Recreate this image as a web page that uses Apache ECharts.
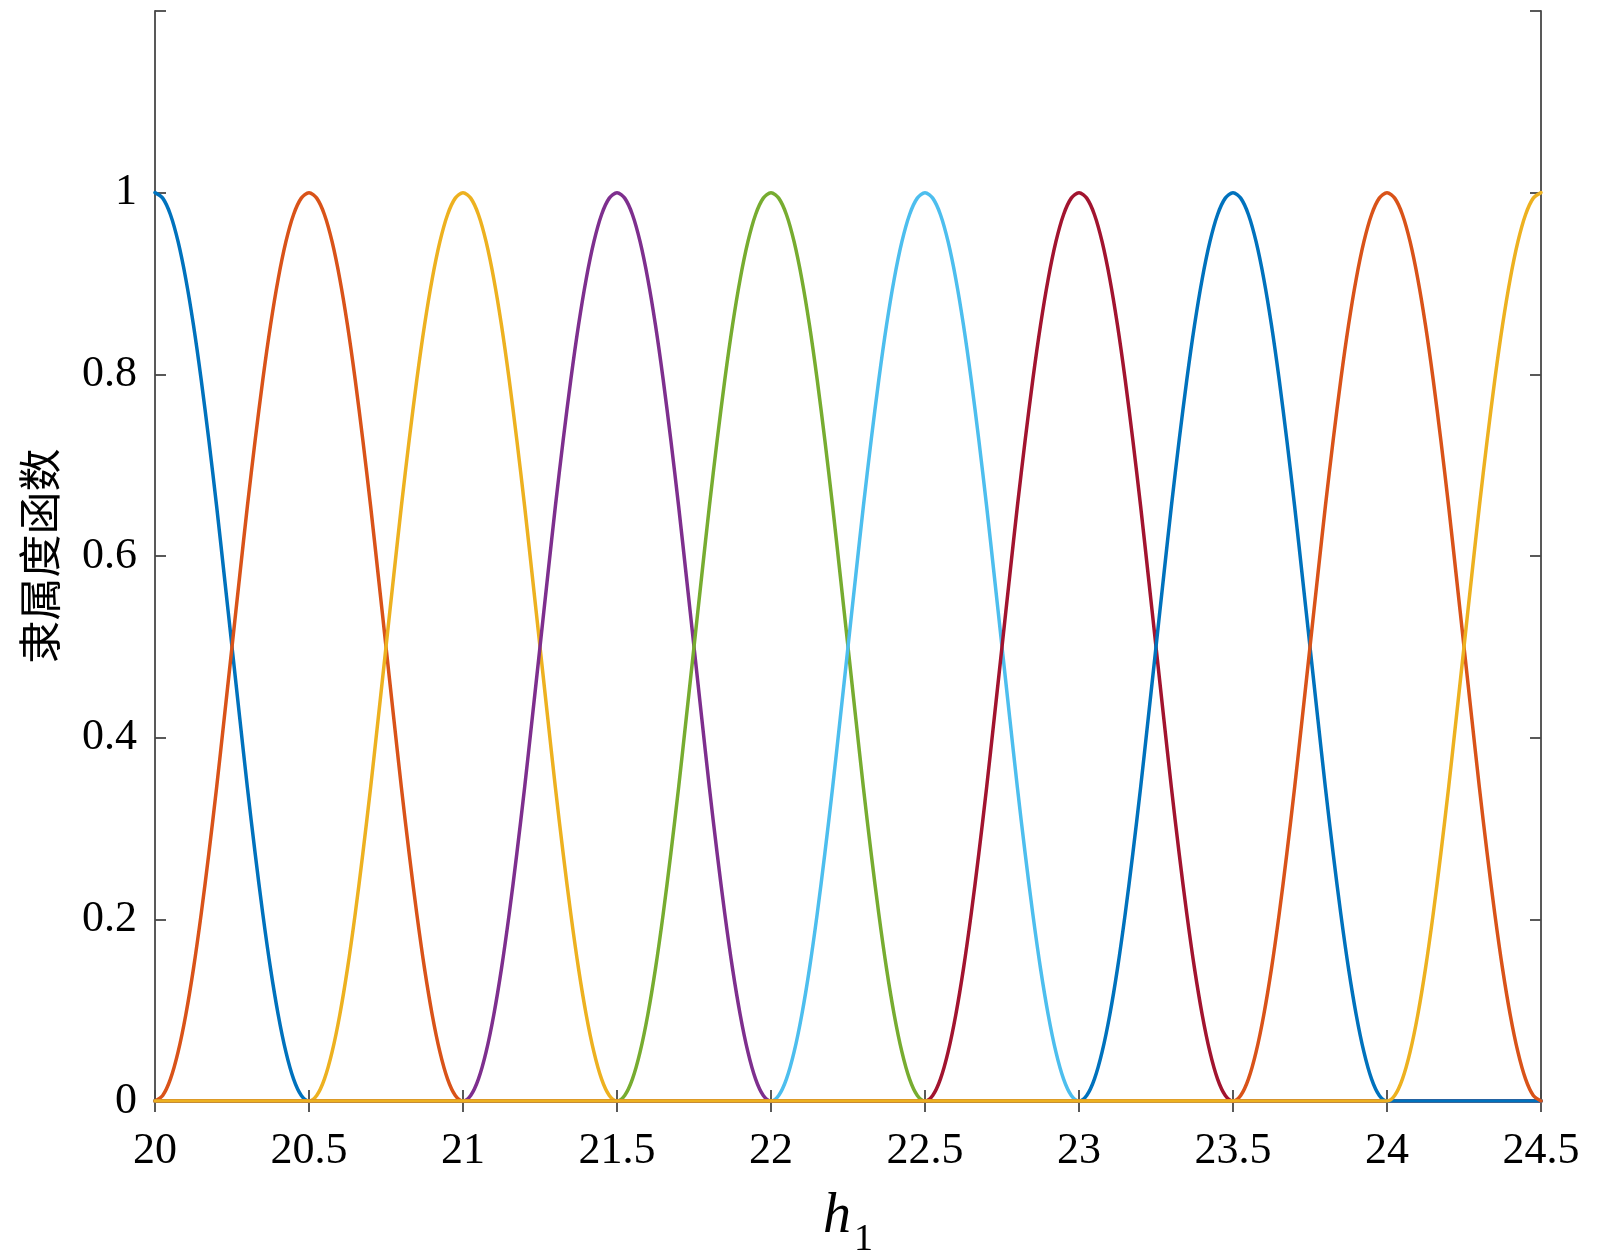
<!DOCTYPE html>
<html>
<head>
<meta charset="utf-8">
<script src="https://cdn.jsdelivr.net/npm/echarts@6/dist/echarts.min.js"></script>
<style>html,body{margin:0;padding:0;background:#fff;}#c{width:1600px;height:1253px;}</style>
</head>
<body>
<div id="c"></div>
<script>
// ---- data ----
const xTicks = [20, 20.5, 21, 21.5, 22, 22.5, 23, 23.5, 24, 24.5];
const yTicks = [0, 0.2, 0.4, 0.6, 0.8, 1];

const s1X = [20,20.025,20.05,20.075,20.1,20.125,20.15,20.175,20.2,20.225,20.25,20.275,20.3,20.325,20.35,20.375,20.4,20.425,20.45,20.475,20.5,24.5];
const s1Y = [1,0.994,0.976,0.946,0.905,0.854,0.794,0.727,0.655,0.578,0.5,0.422,0.345,0.273,0.206,0.146,0.095,0.054,0.024,0.006,0,0];

const s2X = [20,20.025,20.05,20.075,20.1,20.125,20.15,20.175,20.2,20.225,20.25,20.275,20.3,20.325,20.35,20.375,20.4,20.425,20.45,20.475,
  20.5,20.525,20.55,20.575,20.6,20.625,20.65,20.675,20.7,20.725,20.75,20.775,20.8,20.825,20.85,20.875,20.9,20.925,20.95,20.975,21,24.5];
const s2Y = [0,0.006,0.024,0.054,0.095,0.146,0.206,0.273,0.345,0.422,0.5,0.578,0.655,0.727,0.794,0.854,0.905,0.946,0.976,0.994,
  1,0.994,0.976,0.946,0.905,0.854,0.794,0.727,0.655,0.578,0.5,0.422,0.345,0.273,0.206,0.146,0.095,0.054,0.024,0.006,0,0];

const s3X = [20,20.5,20.525,20.55,20.575,20.6,20.625,20.65,20.675,20.7,20.725,20.75,20.775,20.8,20.825,20.85,20.875,20.9,20.925,20.95,20.975,
  21,21.025,21.05,21.075,21.1,21.125,21.15,21.175,21.2,21.225,21.25,21.275,21.3,21.325,21.35,21.375,21.4,21.425,21.45,21.475,21.5,24.5];
const s3Y = [0,0,0.006,0.024,0.054,0.095,0.146,0.206,0.273,0.345,0.422,0.5,0.578,0.655,0.727,0.794,0.854,0.905,0.946,0.976,0.994,
  1,0.994,0.976,0.946,0.905,0.854,0.794,0.727,0.655,0.578,0.5,0.422,0.345,0.273,0.206,0.146,0.095,0.054,0.024,0.006,0,0];

const s4X = [20,21,21.025,21.05,21.075,21.1,21.125,21.15,21.175,21.2,21.225,21.25,21.275,21.3,21.325,21.35,21.375,21.4,21.425,21.45,21.475,
  21.5,21.525,21.55,21.575,21.6,21.625,21.65,21.675,21.7,21.725,21.75,21.775,21.8,21.825,21.85,21.875,21.9,21.925,21.95,21.975,22,24.5];
const s4Y = [0,0,0.006,0.024,0.054,0.095,0.146,0.206,0.273,0.345,0.422,0.5,0.578,0.655,0.727,0.794,0.854,0.905,0.946,0.976,0.994,
  1,0.994,0.976,0.946,0.905,0.854,0.794,0.727,0.655,0.578,0.5,0.422,0.345,0.273,0.206,0.146,0.095,0.054,0.024,0.006,0,0];

const s5X = [20,21.5,21.525,21.55,21.575,21.6,21.625,21.65,21.675,21.7,21.725,21.75,21.775,21.8,21.825,21.85,21.875,21.9,21.925,21.95,21.975,
  22,22.025,22.05,22.075,22.1,22.125,22.15,22.175,22.2,22.225,22.25,22.275,22.3,22.325,22.35,22.375,22.4,22.425,22.45,22.475,22.5,24.5];
const s5Y = [0,0,0.006,0.024,0.054,0.095,0.146,0.206,0.273,0.345,0.422,0.5,0.578,0.655,0.727,0.794,0.854,0.905,0.946,0.976,0.994,
  1,0.994,0.976,0.946,0.905,0.854,0.794,0.727,0.655,0.578,0.5,0.422,0.345,0.273,0.206,0.146,0.095,0.054,0.024,0.006,0,0];

const s6X = [20,22,22.025,22.05,22.075,22.1,22.125,22.15,22.175,22.2,22.225,22.25,22.275,22.3,22.325,22.35,22.375,22.4,22.425,22.45,22.475,
  22.5,22.525,22.55,22.575,22.6,22.625,22.65,22.675,22.7,22.725,22.75,22.775,22.8,22.825,22.85,22.875,22.9,22.925,22.95,22.975,23,24.5];
const s6Y = [0,0,0.006,0.024,0.054,0.095,0.146,0.206,0.273,0.345,0.422,0.5,0.578,0.655,0.727,0.794,0.854,0.905,0.946,0.976,0.994,
  1,0.994,0.976,0.946,0.905,0.854,0.794,0.727,0.655,0.578,0.5,0.422,0.345,0.273,0.206,0.146,0.095,0.054,0.024,0.006,0,0];

const s7X = [20,22.5,22.525,22.55,22.575,22.6,22.625,22.65,22.675,22.7,22.725,22.75,22.775,22.8,22.825,22.85,22.875,22.9,22.925,22.95,22.975,
  23,23.025,23.05,23.075,23.1,23.125,23.15,23.175,23.2,23.225,23.25,23.275,23.3,23.325,23.35,23.375,23.4,23.425,23.45,23.475,23.5,24.5];
const s7Y = [0,0,0.006,0.024,0.054,0.095,0.146,0.206,0.273,0.345,0.422,0.5,0.578,0.655,0.727,0.794,0.854,0.905,0.946,0.976,0.994,
  1,0.994,0.976,0.946,0.905,0.854,0.794,0.727,0.655,0.578,0.5,0.422,0.345,0.273,0.206,0.146,0.095,0.054,0.024,0.006,0,0];

const s8X = [20,23,23.025,23.05,23.075,23.1,23.125,23.15,23.175,23.2,23.225,23.25,23.275,23.3,23.325,23.35,23.375,23.4,23.425,23.45,23.475,
  23.5,23.525,23.55,23.575,23.6,23.625,23.65,23.675,23.7,23.725,23.75,23.775,23.8,23.825,23.85,23.875,23.9,23.925,23.95,23.975,24,24.5];
const s8Y = [0,0,0.006,0.024,0.054,0.095,0.146,0.206,0.273,0.345,0.422,0.5,0.578,0.655,0.727,0.794,0.854,0.905,0.946,0.976,0.994,
  1,0.994,0.976,0.946,0.905,0.854,0.794,0.727,0.655,0.578,0.5,0.422,0.345,0.273,0.206,0.146,0.095,0.054,0.024,0.006,0,0];

const s9X = [20,23.5,23.525,23.55,23.575,23.6,23.625,23.65,23.675,23.7,23.725,23.75,23.775,23.8,23.825,23.85,23.875,23.9,23.925,23.95,23.975,
  24,24.025,24.05,24.075,24.1,24.125,24.15,24.175,24.2,24.225,24.25,24.275,24.3,24.325,24.35,24.375,24.4,24.425,24.45,24.475,24.5];
const s9Y = [0,0,0.006,0.024,0.054,0.095,0.146,0.206,0.273,0.345,0.422,0.5,0.578,0.655,0.727,0.794,0.854,0.905,0.946,0.976,0.994,
  1,0.994,0.976,0.946,0.905,0.854,0.794,0.727,0.655,0.578,0.5,0.422,0.345,0.273,0.206,0.146,0.095,0.054,0.024,0.006,0];

const s10X = [20,24,24.025,24.05,24.075,24.1,24.125,24.15,24.175,24.2,24.225,24.25,24.275,24.3,24.325,24.35,24.375,24.4,24.425,24.45,24.475,24.5];
const s10Y = [0,0,0.006,0.024,0.054,0.095,0.146,0.206,0.273,0.345,0.422,0.5,0.578,0.655,0.727,0.794,0.854,0.905,0.946,0.976,0.994,1];

const seriesXs = [s1X,s2X,s3X,s4X,s5X,s6X,s7X,s8X,s9X,s10X];
const seriesYs = [s1Y,s2Y,s3Y,s4Y,s5Y,s6Y,s7Y,s8Y,s9Y,s10Y];
const colors = ['#0072BD','#D95319','#EDB120','#7E2F8E','#77AC30','#4DBEEE','#A2142F','#0072BD','#D95319','#EDB120'];

const yTitle = '隶属度函数';

// ---- chart ----
const chart = echarts.init(document.getElementById('c'), null, {renderer:'canvas'});
const serif = '"Liberation Serif","Times New Roman",serif';
const boxColor = '#474747';
const lineCommon = {lineStyle:{color:boxColor, width:1.8}};
const tickCommon = {show:true, inside:true, length:11, lineStyle:{color:boxColor, width:1.8}};

const series = seriesXs.map((xs, i) => ({
  type:'line',
  data: xs.map((x, k) => [x, seriesYs[i][k]]),
  showSymbol:false,
  smooth:0.3,
  lineStyle:{color:colors[i], width:3.5, join:'round', cap:'round'},
  itemStyle:{color:colors[i]},
  animation:false
}));

chart.setOption({
  backgroundColor:'#fff',
  animation:false,
  grid:{left:155, top:11, width:1386, height:1090, outerBoundsMode:'none', containLabel:false},
  xAxis:[
    {type:'value', min:20, max:24.5, interval:0.5, position:'bottom',
     axisLine:{show:true, ...lineCommon}, axisTick:tickCommon,
     axisLabel:{fontFamily:serif, fontSize:44, color:'#000', margin:28,
       formatter:(v)=> xTicks.includes(+v.toFixed(2)) ? String(v) : ''},
     splitLine:{show:false},
     name:'{h|h}{s|1}', nameLocation:'middle', nameGap:88,
     nameTextStyle:{rich:{
       h:{fontFamily:serif, fontStyle:'italic', fontSize:56, color:'#000', padding:[0,3,14,0], verticalAlign:'bottom'},
       s:{fontFamily:serif, fontSize:38, color:'#000', verticalAlign:'bottom'}
     }}},
    {type:'value', min:20, max:24.5, interval:0.5, position:'top',
     axisLine:{show:true, ...lineCommon}, axisTick:tickCommon,
     axisLabel:{show:false}, splitLine:{show:false}}
  ],
  yAxis:[
    {type:'value', min:0, max:1.2, interval:0.2, position:'left',
     axisLine:{show:true, ...lineCommon}, axisTick:tickCommon,
     axisLabel:{fontFamily:serif, fontSize:44, color:'#000', margin:18,
       formatter:(v)=> yTicks.includes(+v.toFixed(2)) ? String(+v.toFixed(1)) : ''},
     splitLine:{show:false},
     name:yTitle, nameLocation:'middle', nameGap:94, nameRotate:90,
     nameTextStyle:{fontFamily:'"Noto Sans CJK SC",sans-serif', fontSize:43, color:'#000'}},
    {type:'value', min:0, max:1.2, interval:0.2, position:'right',
     axisLine:{show:true, ...lineCommon}, axisTick:tickCommon,
     axisLabel:{show:false}, splitLine:{show:false}}
  ],
  series: series
});
</script>
</body>
</html>
